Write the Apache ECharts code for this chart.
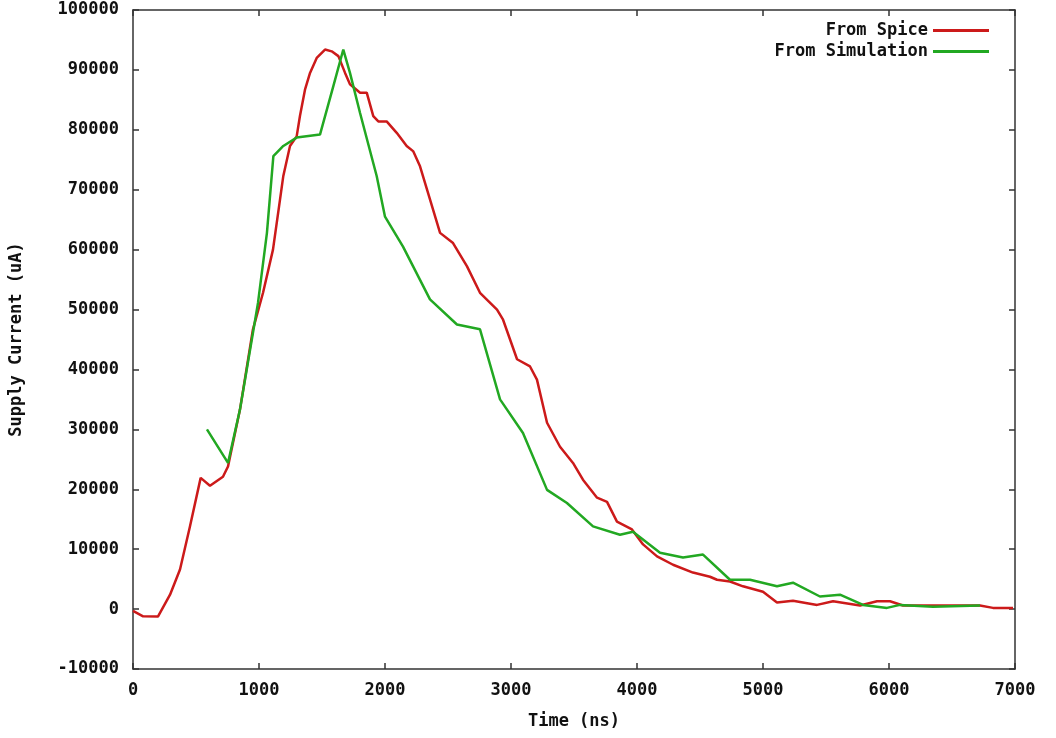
<!DOCTYPE html>
<html>
<head>
<meta charset="utf-8">
<script src="https://cdn.jsdelivr.net/npm/echarts@6/dist/echarts.min.js"></script>
<style>
  html, body { margin: 0; padding: 0; background: #fff; }
  #chart { width: 1056px; height: 738px; }
</style>
</head>
<body>
<div id="chart"></div>
<script>
// Spice curve (time ns, current uA)
const spiceTime = [0, 80, 198, 294, 373, 452, 537, 611, 714, 754, 849, 952, 1032, 1111, 1167, 1193, 1246, 1299, 1325, 1365, 1405, 1458, 1524, 1577, 1630, 1683, 1722, 1802, 1855, 1907, 1947, 2013, 2093, 2172, 2225, 2278, 2357, 2437, 2540, 2651, 2754, 2889, 2937, 3048, 3151, 3206, 3286, 3389, 3492, 3571, 3683, 3762, 3841, 3960, 4048, 4159, 4286, 4444, 4579, 4635, 4738, 4841, 5000, 5111, 5238, 5429, 5556, 5770, 5905, 6008, 6111, 6349, 6722, 6825, 6984]
const spiceCurrent = [-300, -1200, -1250, 2400, 6600, 13800, 21900, 20600, 22100, 23800, 33300, 46700, 52800, 60000, 68400, 72300, 77300, 78900, 82300, 86700, 89500, 92000, 93400, 93100, 92300, 89500, 87600, 86200, 86200, 82300, 81400, 81400, 79500, 77300, 76400, 73900, 68400, 62800, 61100, 57200, 52800, 50000, 48300, 41700, 40500, 38300, 31100, 27100, 24400, 21600, 18600, 17900, 14600, 13300, 10800, 8800, 7400, 6100, 5400, 4900, 4600, 3800, 2900, 1100, 1400, 700, 1300, 600, 1300, 1300, 600, 600, 600, 200, 200]

// Simulation curve
const simTime = [587, 754, 849, 992, 1063, 1114, 1193, 1299, 1484, 1590, 1669, 1722, 1802, 1934, 2000, 2143, 2357, 2571, 2754, 2913, 3095, 3286, 3444, 3651, 3865, 3968, 4183, 4365, 4524, 4738, 4897, 5111, 5238, 5452, 5611, 5794, 5984, 6087, 6349, 6722]
const simCurrent = [30000, 24400, 33300, 51100, 62800, 75600, 77300, 78700, 79200, 87300, 93400, 89500, 82800, 72300, 65500, 60500, 51700, 47500, 46700, 35000, 29400, 19900, 17700, 13800, 12400, 12900, 9400, 8600, 9100, 4900, 4900, 3800, 4400, 2100, 2400, 700, 200, 700, 400, 600]

const xTicks = [0, 7000, 1000]
const yTicks = [-10000, 100000, 10000]

const font = 'DejaVu Sans Mono'
const pair = (xs, ys) => xs.map((x, i) => [x, ys[i]])
const plain = v => String(v)

const chart = echarts.init(document.getElementById('chart'))

const axisLine = { show: true, onZero: false, lineStyle: { color: '#333', width: 1.5 } }
const tick = { show: true, inside: true, length: 6, lineStyle: { color: '#333', width: 1.5 } }
const labelStyle = { fontFamily: font, fontWeight: 'bold', fontSize: 17, color: '#111' }

chart.setOption({
  animation: false,
  backgroundColor: '#fff',
  grid: { left: 133, right: 41, top: 10, bottom: 69 },
  legend: {
    orient: 'vertical',
    right: 62,
    top: 17,
    align: 'right',
    icon: 'rect',
    itemWidth: 56,
    itemHeight: 3,
    itemGap: 4,
    textStyle: labelStyle,
    data: ['From Spice', 'From Simulation']
  },
  xAxis: [
    {
      type: 'value',
      min: xTicks[0], max: xTicks[1], interval: xTicks[2],
      name: 'Time (ns)',
      nameLocation: 'middle',
      nameGap: 44,
      nameTextStyle: labelStyle,
      axisLine: axisLine,
      axisTick: tick,
      splitLine: { show: false },
      axisLabel: Object.assign({ margin: 13, formatter: plain }, labelStyle)
    },
    {
      type: 'value', position: 'top',
      min: xTicks[0], max: xTicks[1], interval: xTicks[2],
      axisLine: axisLine, axisTick: tick, axisLabel: { show: false }, splitLine: { show: false }
    }
  ],
  yAxis: [
    {
      type: 'value',
      min: yTicks[0], max: yTicks[1], interval: yTicks[2],
      name: 'Supply Current (uA)',
      nameLocation: 'middle',
      nameGap: 108,
      nameTextStyle: labelStyle,
      axisLine: axisLine,
      axisTick: tick,
      splitLine: { show: false },
      axisLabel: Object.assign({ margin: 14, formatter: plain }, labelStyle)
    },
    {
      type: 'value', position: 'right',
      min: yTicks[0], max: yTicks[1], interval: yTicks[2],
      axisLine: axisLine, axisTick: tick, axisLabel: { show: false }, splitLine: { show: false }
    }
  ],
  series: [
    {
      name: 'From Spice',
      type: 'line',
      data: pair(spiceTime, spiceCurrent),
      showSymbol: false,
      color: '#cc1a1a',
      lineStyle: { width: 2.5 }
    },
    {
      name: 'From Simulation',
      type: 'line',
      data: pair(simTime, simCurrent),
      showSymbol: false,
      color: '#22a822',
      lineStyle: { width: 2.5 }
    }
  ]
})
</script>
</body>
</html>
